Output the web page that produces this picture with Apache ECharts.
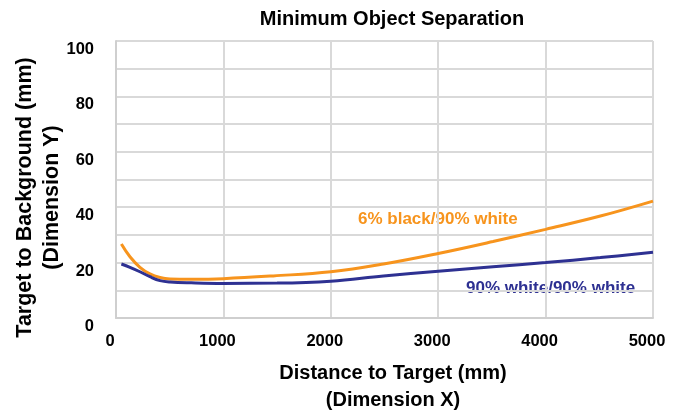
<!DOCTYPE html>
<html><head><meta charset="utf-8">
<script src="https://cdn.jsdelivr.net/npm/echarts@6/dist/echarts.min.js"></script>
<style>html,body{margin:0;padding:0;background:#fff}#c{width:675px;height:418px}</style>
</head><body><div id="c"></div>
<script>
const titleText = "Minimum Object Separation";
const xName = "Distance to Target (mm)\n(Dimension X)";
const yName = "Target to Background (mm)\n(Dimension Y)";
const orangeName = "6% black/90% white";
const blueName = "90% white/90% white";
const orangeX = [50, 130, 223, 316, 410, 503, 700, 1000, 1465, 2000, 2490, 3000, 3510, 4000, 4510, 5000];
const orangeY = [26.7, 22.1, 18.3, 15.9, 14.6, 14.1, 14.0, 14.2, 15.2, 16.7, 19.5, 23.3, 27.6, 32.0, 36.8, 42.2];
const blueX = [50, 130, 223, 316, 410, 503, 700, 1000, 1500, 2000, 2490, 3000, 3510, 4000, 4510, 5000];
const blueY = [19.5, 18.3, 16.7, 14.9, 13.5, 13.0, 12.7, 12.5, 12.6, 13.3, 15.2, 16.9, 18.5, 20.0, 21.8, 23.7];
const xTicks = [0, 1000, 2000, 3000, 4000, 5000];
const yTicks = [0, 20, 40, 60, 80, 100];

const FONT = '"Liberation Sans",Arial,sans-serif';
const chart = echarts.init(document.getElementById('c'), null, {renderer: 'canvas'});
const zip = (xs, ys) => xs.map((x, i) => [x, ys[i]]);
chart.setOption({
  animation: false,
  backgroundColor: '#fff',
  title: {
    text: titleText, left: 387, top: 4, textAlign: 'center',
    textStyle: {fontFamily: FONT, fontWeight: 'bold', fontSize: 20, color: '#000'}
  },
  grid: {left: 116, right: 22, top: 41, bottom: 100, containLabel: false, outerBoundsMode: 'none'},
  xAxis: {
    type: 'value', min: 0, max: 5000, interval: 1000,
    name: xName, nameLocation: 'middle', nameGap: 42, nameMoveOverlap: false,
    nameTextStyle: {fontFamily: FONT, fontWeight: 'bold', fontSize: 20, color: '#000', lineHeight: 27, padding: [0, 0, 0, 17]},
    axisLine: {show: true, lineStyle: {color: '#cfcfcf', width: 2}},
    axisTick: {show: false},
    splitLine: {show: true, lineStyle: {color: '#d9d9d9', width: 2}},
    axisLabel: {
      margin: 15, fontFamily: FONT, fontWeight: 'bold', fontSize: 16.5, color: '#000',
      padding: [0, 12, 0, 0],
      formatter: v => xTicks.includes(v) ? String(v) : ''
    }
  },
  yAxis: {
    type: 'value', min: 0, max: 100, interval: 10,
    name: yName, nameLocation: 'middle', nameGap: 50, nameRotate: 90, nameMoveOverlap: false,
    nameTextStyle: {fontFamily: FONT, fontWeight: 'bold', fontSize: 21.5, color: '#000', lineHeight: 27, padding: [0, 36, 0, 0]},
    axisLine: {show: true, lineStyle: {color: '#cfcfcf', width: 2}},
    axisTick: {show: false},
    splitLine: {show: true, lineStyle: {color: '#d9d9d9', width: 2}},
    axisLabel: {
      margin: 22, fontFamily: FONT, fontWeight: 'bold', fontSize: 16.5, color: '#000',
      verticalAlign: 'top',
      formatter: v => yTicks.includes(v) ? String(v) : ''
    }
  },
  series: [
    {name: orangeName, type: 'line', smooth: 0.4, showSymbol: false, data: zip(orangeX, orangeY),
     lineStyle: {color: '#F7941D', width: 3}, itemStyle: {color: '#F7941D'}},
    {name: blueName, type: 'line', smooth: 0.4, showSymbol: false, data: zip(blueX, blueY),
     lineStyle: {color: '#2E3192', width: 3}, itemStyle: {color: '#2E3192'}}
  ],
  graphic: [
    {type: 'text', left: 358, top: 211, style: {text: orangeName, fill: '#F7941D', font: 'bold 17px ' + FONT}},
    {type: 'text', left: 466, top: 280, style: {text: blueName, fill: '#2E3192', font: 'bold 17px ' + FONT}}
  ]
});
</script></body></html>
